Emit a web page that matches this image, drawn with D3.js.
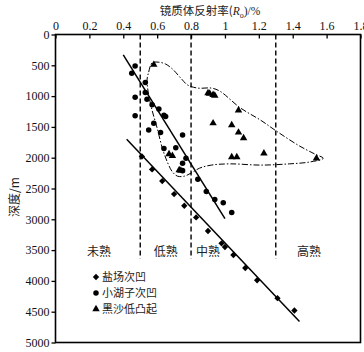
<!DOCTYPE html>
<html><head><meta charset="utf-8">
<script src="https://cdn.jsdelivr.net/npm/d3@7"></script>
<style>body{margin:0;background:#fff}svg{display:block}</style>
</head><body><svg id="c" width="364" height="352"></svg>
<script>
// ---- data ----
const xTicks = [0, 0.2, 0.4, 0.6, 0.8, 1, 1.2, 1.4, 1.6, 1.8];
const yTicks = [0, 500, 1000, 1500, 2000, 2500, 3000, 3500, 4000, 4500, 5000];
const xTitleStart = "镜质体反射率(", xSym = "R", xSub = "o", xTitleEnd = ")/%";
const yTitle = "深度/m";
const seriesNames = ["盐场次凹", "小湖子次凹", "黑沙低凸起"];
const stageNames = ["未熟", "低熟", "中熟", "高熟"];
const stageBounds = [0.5, 0.8, 1.3];
// [Ro %, depth m]
const yanchang = [[0.51,1980],[0.57,2190],[0.63,2380],[0.70,2590],[0.76,2780],[0.83,2970],
  [0.90,3190],[0.98,3390],[1.00,3450],[1.05,3580],[1.12,3790],[1.19,3990],[1.31,4280],[1.41,4480]];
const xiaohuzi = [[0.47,510],[0.45,630],[0.53,780],[0.53,940],[0.47,1020],[0.54,1050],
  [0.57,1140],[0.61,1210],[0.64,1310],[0.65,1330],[0.47,1320],[0.58,1440],[0.55,1550],
  [0.62,1590],[0.75,1630],[0.64,1850],[0.71,1840],[0.77,2010],[0.75,2090],[0.75,2210],
  [0.84,2350],[0.89,2550],[0.94,2680],[0.99,2730],[1.04,2890]];
const heisha = [[0.58,490],[0.67,1940],[0.69,1970],[0.73,2200],[0.74,2210],[0.90,950],
  [0.91,960],[0.93,980],[0.94,990],[1.08,1230],[0.93,1440],[1.04,1470],[1.08,1590],
  [1.11,1680],[1.04,1990],[1.07,1990],[1.23,1930],[1.54,2010]];
const trendUpper = [[0.40,330],[1.00,2990]];
const trendLower = [[0.42,1700],[1.44,4660]];
const envelope = [[0.54,740],[0.55,610],[0.57,460],[0.61,450],[0.65,480],[0.69,560],
  [0.74,710],[0.78,820],[0.84,870],[0.92,870],[0.97,920],[1.09,1190],[1.21,1390],
  [1.31,1580],[1.44,1810],[1.53,1940],[1.58,2010],[1.50,2070],[1.38,2100],[1.21,2120],
  [1.03,2100],[0.92,2120],[0.85,2170],[0.80,2250],[0.76,2300],[0.72,2300],[0.69,2230],
  [0.66,2070],[0.63,1840],[0.60,1520],[0.57,1230],[0.55,980]];

// ---- layout ----
const svg = d3.select("#c");
const L = 55.5, R = 360.5, T = 34.5, B = 342.5;
const x = d3.scaleLinear().domain([0, 1.8]).range([L, R]);
const y = d3.scaleLinear().domain([0, 5000]).range([T, B]);
const serif = "'Liberation Serif','Times New Roman',serif";
const cjk = "'Noto Sans CJK SC','Noto Sans',sans-serif";

// top axis
const xa = svg.append("g").attr("transform", `translate(0,${T})`)
  .call(d3.axisTop(x).tickValues(xTicks).tickFormat(d3.format("")).tickSize(-4).tickPadding(4.5));
xa.select(".domain").remove();
xa.selectAll("line").attr("stroke", "#000").attr("stroke-width", 1.3);
xa.selectAll("text").attr("font-family", serif).attr("font-size", 12).attr("fill", "#111");

// left axis
const ya = svg.append("g").attr("transform", `translate(${L},0)`)
  .call(d3.axisLeft(y).tickValues(yTicks).tickFormat(d3.format("d")).tickSize(4).tickPadding(2));
ya.select(".domain").remove();
ya.selectAll("line").attr("stroke", "#000").attr("stroke-width", 1.3);
ya.selectAll("text").attr("font-family", serif).attr("font-size", 12).attr("fill", "#111");

// frame
svg.append("rect").attr("x", L).attr("y", T).attr("width", R - L).attr("height", B - T)
  .attr("fill", "none").attr("stroke", "#000").attr("stroke-width", 1.6);

// titles
const tt = svg.append("text").attr("x", 210).attr("y", 15).attr("text-anchor", "middle")
  .attr("font-family", cjk).attr("font-size", 11.5).attr("fill", "#222");
tt.append("tspan").text(xTitleStart);
tt.append("tspan").attr("font-family", serif).attr("font-style", "italic").text(xSym);
tt.append("tspan").attr("font-family", serif).attr("font-size", 8).attr("dy", 3).text(xSub);
tt.append("tspan").attr("font-family", serif).attr("dy", -3).text(xTitleEnd);
svg.append("text").attr("transform", `translate(19,${197}) rotate(-90)`)
  .attr("text-anchor", "middle").attr("font-family", cjk).attr("font-size", 12).attr("fill", "#222")
  .text(yTitle);

// stage boundaries
svg.append("g").selectAll("line").data(stageBounds).join("line")
  .attr("x1", d => x(d)).attr("x2", d => x(d)).attr("y1", T).attr("y2", y(3640))
  .attr("stroke", "#000").attr("stroke-width", 1.4).attr("stroke-dasharray", "5,3");

// stage labels
const stagePos = [0.257, 0.65, 0.90, 1.496];
svg.append("g").selectAll("text").data(stageNames).join("text")
  .attr("x", (d, i) => x(stagePos[i])).attr("y", y(3530)).attr("dy", "0.35em")
  .attr("text-anchor", "middle").attr("font-family", cjk).attr("font-size", 12).attr("fill", "#222")
  .text(d => d);

// envelope
svg.append("path").datum(envelope)
  .attr("d", d3.line().x(d => x(d[0])).y(d => y(d[1])).curve(d3.curveCatmullRomClosed.alpha(0.5)))
  .attr("fill", "none").attr("stroke", "#000").attr("stroke-width", 1)
  .attr("stroke-dasharray", "6,2,1.5,2");

// trend lines
const ln = d3.line().x(d => x(d[0])).y(d => y(d[1]));
[trendUpper, trendLower].forEach(t => svg.append("path").datum(t).attr("d", ln)
  .attr("stroke", "#000").attr("stroke-width", 1.5).attr("fill", "none"));

// markers
const diamond = d3.symbol(d3.symbolSquare, 20);
const circle = d3.symbol(d3.symbolCircle, 24);
const tri = d3.symbol(d3.symbolTriangle, 24);
svg.append("g").selectAll("path").data(yanchang).join("path")
  .attr("d", diamond).attr("transform", d => `translate(${x(d[0])},${y(d[1])}) rotate(45)`).attr("fill", "#000");
svg.append("g").selectAll("path").data(xiaohuzi).join("path")
  .attr("d", circle).attr("transform", d => `translate(${x(d[0])},${y(d[1])})`).attr("fill", "#000");
svg.append("g").selectAll("path").data(heisha).join("path")
  .attr("d", tri).attr("transform", d => `translate(${x(d[0])},${y(d[1])})`).attr("fill", "#000");

// legend
const syms = [diamond, circle, tri];
const lg = svg.append("g").attr("transform", "translate(96,277)");
seriesNames.forEach((n, i) => {
  const g = lg.append("g").attr("transform", `translate(0,${i * 16})`);
  g.append("path").attr("d", syms[i]).attr("fill", "#000")
    .attr("transform", i === 0 ? "rotate(45)" : null);
  g.append("text").attr("x", 6).attr("dy", "0.35em").attr("font-family", cjk)
    .attr("font-size", 11).attr("fill", "#222").text(n);
});
</script></body></html>
